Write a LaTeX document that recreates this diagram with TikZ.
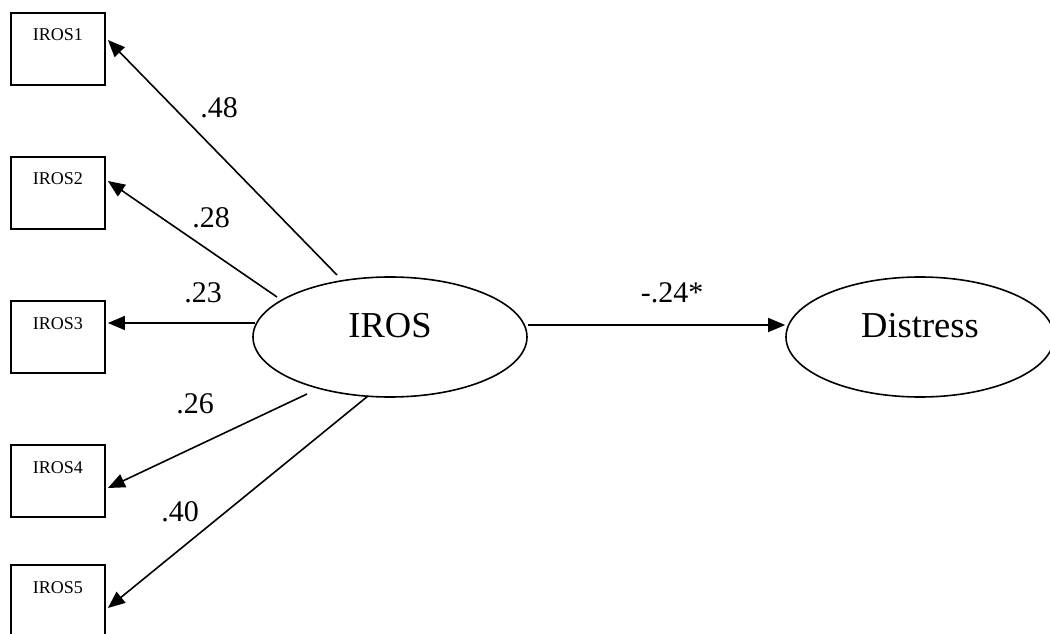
\documentclass[tikz,border=0pt]{standalone}
\usepackage{fontspec}
\setmainfont{Liberation Serif}
\usepackage{tikz}
\usetikzlibrary{shapes.geometric,arrows.meta}

\tikzset{
  obs/.style={draw,line width=1.8pt,minimum width=94pt,minimum height=72pt,inner sep=0pt,
    font=\fontsize{18}{18}\selectfont,text height=12pt,text depth=28pt},
  latent/.style={draw,ellipse,line width=1.6pt,inner sep=0pt,
    font=\fontsize{36.5}{36.5}\selectfont,text height=27pt,text depth=25pt},
  coef/.style={inner sep=0pt,font=\fontsize{30}{30}\selectfont},
  arr/.style={line width=1.6pt,-{Triangle[length=17pt,width=14pt]}}
}

\begin{document}
\begin{tikzpicture}
			\useasboundingbox (0,0) rectangle (1050pt,633pt);

			% indicators
			\foreach \i/\y in {1/584,2/440,3/296,4/152,5/32}
				\node[obs] (ir\i) at (58pt,\y pt) {IROS\i};

			% factors
			\node[latent,minimum width=274pt,minimum height=120pt] (iros) at (390pt,296pt) {IROS};
			\node[latent,minimum width=268pt,minimum height=120pt] (dist) at (920pt,296pt) {Distress};

			% loadings
			\foreach \i/\sx/\sy/\ey in {1/-53/62/9,2/-113/40/12,3/-135/14/14,4/-83/-57/-7,5/-22/-59/-7}
				\draw[arr] ([shift={(\sx pt,\sy pt)}]iros.center) -- ([shift={(2pt,\ey pt)}]ir\i.east);

			\node[coef] (l1) at (219pt,525pt) {.48};
			\node[coef] (l2) at (211pt,415pt) {.28};
			\node[coef] (l3) at (203pt,340pt) {.23};
			\node[coef] (l4) at (195pt,229pt) {.26};
			\node[coef] (l5) at (180pt,121pt) {.40};

			% structural path
			\draw[arr] ([yshift=12pt]iros.east) -- ([yshift=12pt]dist.west);
			\node[coef] (b1) at (672pt,340pt) {-.24*};
		\end{tikzpicture}
\end{document}
